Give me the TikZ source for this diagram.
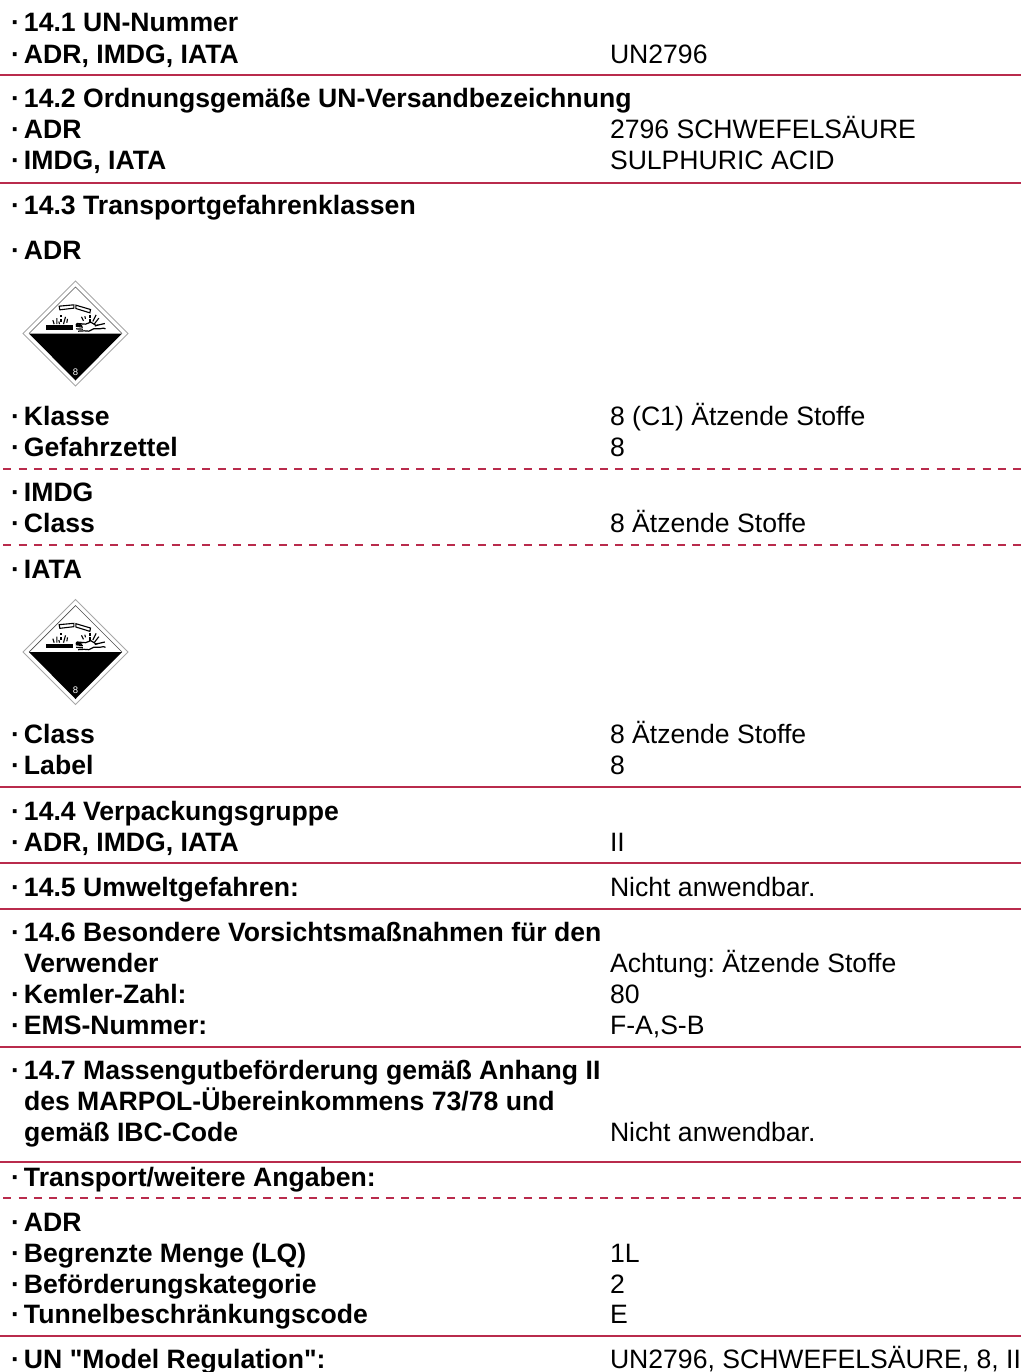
\documentclass[tikz,border=0pt]{standalone}
\usepackage{fontspec}
\setmainfont{Liberation Sans}
\newfontfamily\qfont{Liberation Sans}
\frenchspacing
\definecolor{rulered}{HTML}{B92B4C}
\definecolor{signgray}{HTML}{A8A8A8}
\newcommand{\dt}{\llap{·\hspace{4pt}}}
\tikzset{
  x=1pt,y=-1pt,
  base/.style={inner sep=0pt,outer sep=0pt,anchor=base west,font=\fontsize{26.6}{30}\selectfont},
  lab/.style={base,font=\fontsize{26.6}{30}\selectfont\bfseries},
  val/.style={base},
  solidrule/.style={draw=rulered,line width=1.5pt},
  dashrule/.style={draw=rulered,line width=1.2pt,dash pattern=on 8pt off 7.3pt},
  hazard/.pic={
    \draw[signgray,line width=0.9pt] (0,-52.5)--(52.5,0)--(0,52.5)--(-52.5,0)--cycle;
    \draw[black!70,line width=0.7pt] (-46.5,0)--(0,-46.5)--(46.5,0);
    \fill[black] (-46.5,0)--(46.5,0)--(0,47)--cycle;
    \node[white,inner sep=0pt,font=\fontsize{9.5}{9.5}\selectfont] (-\pgfkeysvalueof{/tikz/signname}) at (0,38.5) {8};
    \begin{scope}[scale=1/3]
      % test tubes
      \draw[black,line width=1.1pt] (-49,-82)--(-5,-86)--(-5,-76)--(-47,-71)--cycle;
      \draw[black,line width=1.1pt] (1,-85)--(45,-72)--(43,-62)--(1,-75)--cycle;
      % bar
      \fill[black] (-89,-25)--(-9,-25)--(-9,-12)--(-89,-12)--cycle;
      % drops
      \fill[black] (-47,-57) rectangle (-42,-50);
      \fill[black] (-47,-44) rectangle (-42,-36);
      \fill[black] (39,-56) rectangle (45,-47);
      \fill[black] (40,-44) rectangle (46,-32);
      % fumes left
      \draw[black,line width=1.1pt] (-64,-28)--(-68,-40) (-56,-28)--(-56,-46) (-48,-28)--(-50,-36)
        (-36,-28)--(-30,-50) (-26,-32)--(-24,-44);
      % fumes right
      \draw[black,line width=1.1pt] (24,-38)--(18,-50) (30,-44)--(28,-52) (52,-36)--(62,-56) (56,-28)--(70,-46) (58,-22)--(68,-26);
      % hand
      \draw[black,line width=1.2pt,line join=round] (88,-30)--(62,-24)--(46,-34)--(30,-28)--(5,-30)--(2,-26)--(20,-24)
        (1,-22)--(22,-19) (2,-14)--(22,-13) (8,-7)--(26,-8)--(40,-7)--(54,-14)--(72,-14)--(84,-16)--(90,-14);
    \end{scope}
  },
  signname/.initial=s
}
\begin{document}
\begin{tikzpicture}
\useasboundingbox (0,0) rectangle (1021,1372);
% rules
\foreach \yy in {75,183,787,863,909,1047,1162,1336}
  \draw[solidrule] (0,\yy) -- (1021,\yy);
\foreach \yy in {469,545,1198}
  \draw[dashrule] (3.3,\yy) -- (1021,\yy);
% signs
\path (75.5,333.5) pic[signname=sa] {hazard};
\path (75.5,652) pic[signname=sb] {hazard};
% text
\begin{scope}[yshift=-0.6pt]
\node[lab] (l1) at (24,31) {\dt 14.1 UN-Nummer};
\node[lab] (l2) at (24,63) {\dt ADR, IMDG, IATA};
\node[val] (v2) at (610,63) {UN2796};
\node[lab] (l3) at (24,107) {\dt 14.2 Ordnungsgemäße UN-Versandbezeichnung};
\node[lab] (l4) at (24,138) {\dt ADR};
\node[val] (v4) at (610,138) {2796 SCHWEFELSÄURE};
\node[lab] (l5) at (24,169) {\dt IMDG, IATA};
\node[val] (v5) at (610,169) {SULPHURIC ACID};
\node[lab] (l6) at (24,214) {\dt 14.3 Transportgefahrenklassen};
\node[lab] (l7) at (24,259) {\dt ADR};
\node[lab] (l8) at (24,425) {\dt Klasse};
\node[val] (v8) at (610,425) {8 (C1) Ätzende Stoffe};
\node[lab] (l9) at (24,456) {\dt Gefahrzettel};
\node[val] (v9) at (610,456) {8};
\node[lab] (l10) at (24,501) {\dt IMDG};
\node[lab] (l11) at (24,532) {\dt Class};
\node[val] (v11) at (610,532) {8 Ätzende Stoffe};
\node[lab] (l12) at (24,578) {\dt IATA};
\node[lab] (l13) at (24,743) {\dt Class};
\node[val] (v13) at (610,743) {8 Ätzende Stoffe};
\node[lab] (l14) at (24,774) {\dt Label};
\node[val] (v14) at (610,774) {8};
\node[lab] (l15) at (24,820) {\dt 14.4 Verpackungsgruppe};
\node[lab] (l16) at (24,851) {\dt ADR, IMDG, IATA};
\node[val] (v16) at (610,851) {II};
\node[lab] (l17) at (24,896) {\dt 14.5 Umweltgefahren:};
\node[val] (v17) at (610,896) {Nicht anwendbar.};
\node[lab] (l18) at (24,941) {\dt 14.6 Besondere Vorsichtsmaßnahmen für den};
\node[lab] (l19) at (24,972) {Verwender};
\node[val] (v19) at (610,972) {Achtung: Ätzende Stoffe};
\node[lab] (l20) at (24,1003) {\dt Kemler-Zahl:};
\node[val] (v20) at (610,1003) {80};
\node[lab] (l21) at (24,1034) {\dt EMS-Nummer:};
\node[val] (v21) at (610,1034) {F-A,S-B};
\node[lab] (l22) at (24,1079) {\dt 14.7 Massengutbeförderung gemäß Anhang II};
\node[lab] (l23) at (24,1110) {des MARPOL-Übereinkommens 73/78 und};
\node[lab] (l24) at (24,1141) {gemäß IBC-Code};
\node[val] (v24) at (610,1141) {Nicht anwendbar.};
\node[lab] (l25) at (24,1186) {\dt Transport/weitere Angaben:};
\node[lab] (l26) at (24,1231) {\dt ADR};
\node[lab] (l27) at (24,1262) {\dt Begrenzte Menge (LQ)};
\node[val] (v27) at (610,1262) {1L};
\node[lab] (l28) at (24,1293) {\dt Beförderungskategorie};
\node[val] (v28) at (610,1293) {2};
\node[lab] (l29) at (24,1323) {\dt Tunnelbeschränkungscode};
\node[val] (v29) at (610,1323) {E};
\node[lab] (l30) at (24,1368) {\dt UN {\qfont\bfseries"}Model Regulation{\qfont\bfseries"}:};
\node[val] (v30) at (610,1368) {UN2796, SCHWEFELSÄURE, 8, II};
\end{scope}
\end{tikzpicture}
\end{document}
